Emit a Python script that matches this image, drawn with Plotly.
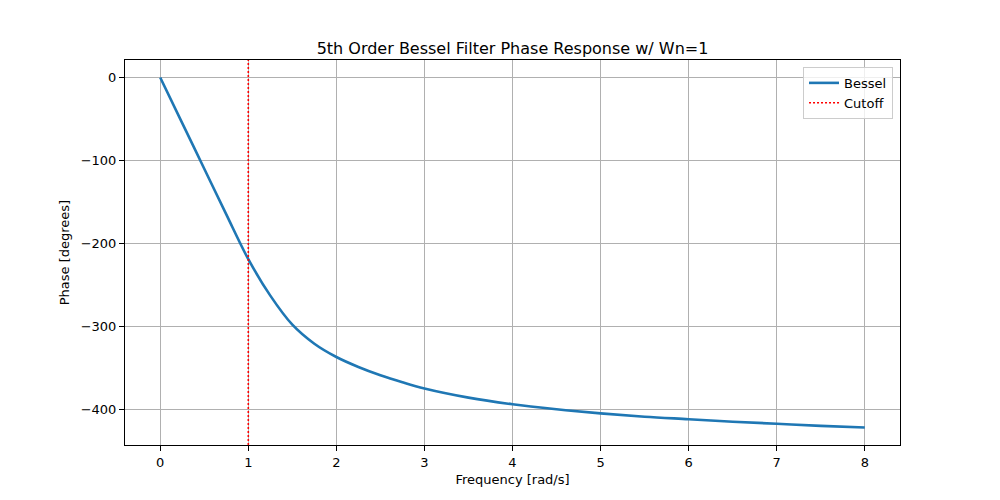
import plotly.graph_objects as go

# values
freq = [0, 0.25, 0.5, 0.75, 1, 1.25, 1.5, 1.75, 2, 2.25, 2.5, 2.75, 3, 3.5, 4, 4.5, 5, 5.5, 6, 6.5, 7, 7.5, 8]
phase = [0, -55, -110, -165, -219, -263, -298, -321, -337, -349, -359, -367.5, -375, -386, -394, -400, -405, -409,
         -412, -415, -417.5, -420, -422]
cutoff = 1

FONT = "DejaVu Sans"

# matplotlib-like 5% margins
xpad = (max(freq) - min(freq)) * 0.05
ypad = (max(phase) - min(phase)) * 0.05
xr = [min(freq) - xpad, max(freq) + xpad]
yr = [min(phase) - ypad, max(phase) + ypad]

fig = go.Figure()
fig.add_trace(go.Scatter(x=freq, y=phase, mode="lines", name="Bessel",
                         line=dict(color="#1f77b4", width=2.6, shape="spline", smoothing=1)))
fig.add_trace(go.Scatter(x=[cutoff, cutoff], y=yr, mode="lines", name="Cutoff",
                         line=dict(color="red", width=1.6, dash="2px,2px")))

axis_common = dict(showline=True, linecolor="black", linewidth=1, mirror=True,
                   ticks="outside", ticklen=5, tickcolor="black",
                   showgrid=True, gridcolor="#b0b0b0", gridwidth=1,
                   zeroline=False, tickfont=dict(family=FONT, size=13, color="black"))

fig.update_xaxes(range=xr, dtick=1, title=dict(text="Frequency [rad/s]", font=dict(family=FONT, size=13, color="black"), standoff=6),
                 **axis_common)
fig.update_yaxes(range=yr, dtick=100, title=dict(text="Phase [degrees]", font=dict(family=FONT, size=13, color="black"), standoff=8),
                 **axis_common)

# page body adds an 8px offset, so margins are shifted to compensate
fig.update_layout(
    width=1000, height=500,
    margin=dict(l=117, r=108, t=52, b=63),
    plot_bgcolor="white", paper_bgcolor="white",
    title=dict(text="5th Order Bessel Filter Phase Response w/ Wn=1", xref="paper", x=0.5, xanchor="center",
               y=0.909, yanchor="bottom", font=dict(family=FONT, size=16, color="black")),
    legend=dict(x=0.991, y=0.982, xanchor="right", yanchor="top",
                bgcolor="rgba(255,255,255,0.8)", bordercolor="#cccccc", borderwidth=1,
                font=dict(family=FONT, size=13, color="black"), tracegroupgap=0),
    showlegend=True,
)

fig.write_html("out.html")
